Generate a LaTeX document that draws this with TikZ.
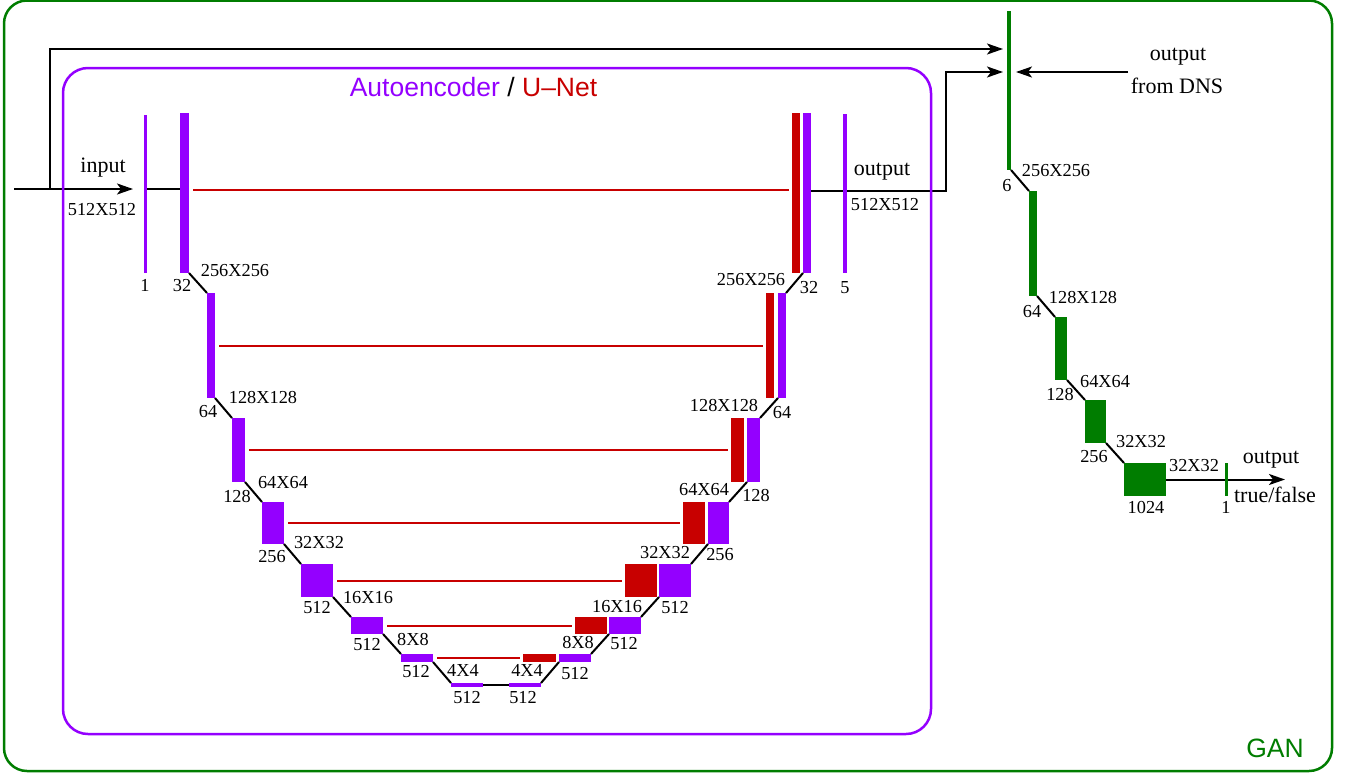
\documentclass[tikz,border=0pt]{standalone}
\usepackage{fontspec}
\setmainfont{Liberation Serif}
\newfontfamily\sansfam{Liberation Sans}
\usetikzlibrary{arrows.meta,calc,backgrounds}
\definecolor{ae}{RGB}{148,0,255}
\definecolor{un}{RGB}{200,0,0}
\definecolor{gn}{RGB}{0,125,0}
\tikzset{
 bar/.style={rectangle, inner sep=0pt, outer sep=0pt, anchor=north west, draw=none},
 pbar/.style={bar, fill=ae},
 rbar/.style={bar, fill=un},
 gbar/.style={bar, fill=gn},
 ln/.style={line width=2pt, black},
 arr/.style={ln, -{Stealth[length=16pt,width=11pt,inset=4pt]}},
 skipln/.style={line width=2pt, un, shorten <=4pt, shorten >=3pt},
 dim/.style={font=\fontsize{18.3}{20}\selectfont, inner sep=0pt, anchor=base},
 word/.style={font=\fontsize{22}{24}\selectfont, inner sep=0pt, anchor=base},
}
\newcommand\mkbar[6]{\node[#2, minimum width={(#5)-(#3)}, minimum height={(#6)-(#4)}] (#1) at (#3,#4) {};}
\begin{document}
\begin{tikzpicture}[x=1pt,y=-1pt]
\useasboundingbox (0,0) rectangle (1351,774);
% ---------- bars
\mkbar{b1}{pbar}{144}{115}{147}{273}
\mkbar{e1}{pbar}{180}{113}{189}{273}
\mkbar{e2}{pbar}{207}{293}{215}{398}
\mkbar{e3}{pbar}{232}{418}{245}{482}
\mkbar{e4}{pbar}{262}{502}{284}{544}
\mkbar{e5}{pbar}{301}{564}{333}{597}
\mkbar{e6}{pbar}{351}{617}{383}{634}
\mkbar{e7}{pbar}{401}{654}{433}{662}
\mkbar{bl}{pbar}{451}{683}{483}{687}
\mkbar{br}{pbar}{509}{683}{541}{687}
\mkbar{d7r}{rbar}{523}{654}{556}{662}
\mkbar{d7p}{pbar}{559}{654}{591}{662}
\mkbar{d6r}{rbar}{575}{617}{607}{634}
\mkbar{d6p}{pbar}{609}{617}{641}{634}
\mkbar{d5r}{rbar}{625}{564}{657}{597}
\mkbar{d5p}{pbar}{659}{564}{691}{597}
\mkbar{d4r}{rbar}{683}{502}{705}{544}
\mkbar{d4p}{pbar}{708}{502}{729}{544}
\mkbar{d3r}{rbar}{731}{418}{744}{482}
\mkbar{d3p}{pbar}{747}{418}{760}{482}
\mkbar{d2r}{rbar}{766}{293}{774}{398}
\mkbar{d2p}{pbar}{778}{293}{786}{398}
\mkbar{d1r}{rbar}{792}{113}{800}{273}
\mkbar{d1p}{pbar}{803}{113}{811}{273}
\mkbar{ob}{pbar}{843}{114}{847}{273}
\mkbar{g0}{gbar}{1007}{11}{1011}{170}
\mkbar{g1}{gbar}{1029}{191}{1037}{296}
\mkbar{g2}{gbar}{1055}{317}{1067}{380}
\mkbar{g3}{gbar}{1085}{400}{1106}{443}
\mkbar{g4}{gbar}{1124}{463}{1166}{496}
\mkbar{gout}{gbar}{1225}{463}{1228}{496}
% ---------- coordinates
\coordinate (in0) at (14,189);
\coordinate (inTip) at (133,189);
\coordinate (br0) at (50,189);
\coordinate (y49) at (0,49);
\coordinate (y72) at (0,72);
\coordinate (y191) at (0,191);
\coordinate (bend) at (946,191);
\coordinate (dns) at (1128,72);
\coordinate (outTip) at (1285,479.5);
% ---------- title and labels
\node[anchor=base, inner sep=0pt, font=\sansfam\fontsize{26.5}{28}\selectfont] (title) at (473.5,96) {\textcolor{ae}{Autoencoder} / \textcolor{un}{U–Net}};
\node[anchor=base, inner sep=0pt, font=\sansfam\fontsize{26.5}{28}\selectfont, text=gn] (gan) at (1275,757) {GAN};
\node[word] (tin) at (103,172) {input};
\node[dim] (tin2) at (102,215) {512X512};
\node[dim] (l1) at (145,291) {1};
\node[dim] (l32) at (182,291) {32};
\node[dim] (s1) at (235,276) {256X256};
\node[dim] (l64) at (208,417) {64};
\node[dim] (s2) at (263,403) {128X128};
\node[dim] (l128) at (237,502) {128};
\node[dim] (s3) at (283,488) {64X64};
\node[dim] (l256) at (272,562) {256};
\node[dim] (s4) at (319,548) {32X32};
\node[dim] (l512a) at (317,613) {512};
\node[dim] (s5) at (368,603) {16X16};
\node[dim] (l512b) at (367,650) {512};
\node[dim] (s6) at (413,645) {8X8};
\node[dim] (l512c) at (416,677) {512};
\node[dim] (s7) at (463,676) {4X4};
\node[dim] (l512d) at (467,703) {512};
\node[dim] (l512e) at (523,703) {512};
\node[dim] (s7r) at (527,676) {4X4};
\node[dim] (s6r) at (578,648) {8X8};
\node[dim] (r512c) at (575,679) {512};
\node[dim] (s5r) at (617,612) {16X16};
\node[dim] (r512b) at (624,649) {512};
\node[dim] (s4r) at (665,558) {32X32};
\node[dim] (r512a) at (675,613) {512};
\node[dim] (s3r) at (704,495) {64X64};
\node[dim] (r256) at (720,560) {256};
\node[dim] (s2r) at (724,411) {128X128};
\node[dim] (r128) at (756,501) {128};
\node[dim] (s1r) at (751,285) {256X256};
\node[dim] (r64) at (782,418) {64};
\node[dim] (r32) at (809,293) {32};
\node[dim] (r5) at (845,293) {5};
\node[word] (tout) at (882,175) {output};
\node[dim] (tout2) at (885,210) {512X512};
\node[word] (tdns1) at (1178,60) {output};
\node[word] (tdns2) at (1177,93) {from DNS};
\node[dim] (g6) at (1007,191) {6};
\node[dim] (gs1) at (1056,176) {256X256};
\node[dim] (g64) at (1032,317) {64};
\node[dim] (gs2) at (1083,303) {128X128};
\node[dim] (g128) at (1060,400) {128};
\node[dim] (gs3) at (1105,387) {64X64};
\node[dim] (g256) at (1094,462) {256};
\node[dim] (gs4) at (1141,447) {32X32};
\node[dim] (g1024) at (1146,513) {1024};
\node[dim] (gs5) at (1194,471) {32X32};
\node[dim] (gone) at (1226,513) {1};
\node[word] (gout1) at (1271,463) {output};
\node[word] (gout2) at (1275,502) {true/false};
% ---------- connectors (behind the bars)
\begin{scope}[on background layer]
\draw[arr] (in0) -- (inTip);
\draw[arr] (br0) |- ([xshift=-4pt]g0.west |- y49);
\draw[ln] (b1.east |- in0) -- (e1.west |- in0);
\draw[ln] (e1.south east) -- (e2.north west);
\draw[ln] (e2.south east) -- (e3.north west);
\draw[ln] (e3.south east) -- (e4.north west);
\draw[ln] (e4.south east) -- (e5.north west);
\draw[ln] (e5.south east) -- (e6.north west);
\draw[ln] (e6.south east) -- (e7.north west);
\draw[ln] (e7.south east) -- (bl.north west);
\draw[ln] (bl.east) -- (br.west);
\draw[ln] (br.north east) -- (d7p.south west);
\draw[ln] (d7p.north east) -- (d6p.south west);
\draw[ln] (d6p.north east) -- (d5p.south west);
\draw[ln] (d5p.north east) -- (d4p.south west);
\draw[ln] (d4p.north east) -- (d3p.south west);
\draw[ln] (d3p.north east) -- (d2p.south west);
\draw[ln] (d2p.north east) -- (d1p.south west);
\draw[skipln] ([yshift=3pt]e1.east) -- ([yshift=3pt]d1r.west);
\draw[skipln] (e2.east) -- (d2r.west);
\draw[skipln] (e3.east) -- (d3r.west);
\draw[skipln] (e4.east) -- (d4r.west);
\draw[skipln] (e5.east) -- (d5r.west);
\draw[skipln] (e6.east) -- (d6r.west);
\draw[skipln] (e7.east) -- (d7r.west);
\draw[arr] (d1p.east |- y191) -- (bend) |- ([xshift=-4pt]g0.west |- y72);
\draw[arr] (dns) -- ([xshift=5pt]g0.east |- y72);
\draw[ln] (g0.south east) -- (g1.north west);
\draw[ln] (g1.south east) -- (g2.north west);
\draw[ln] (g2.south east) -- (g3.north west);
\draw[ln] (g3.south east) -- (g4.north west);
\draw[arr] (g4.east) -- (outTip);
\draw[ae, line width=2.5pt, rounded corners=25pt] (63,68) rectangle (931,734);
\draw[gn, line width=2.5pt, rounded corners=23pt] (4,0.5) rectangle (1332,771);
\end{scope}
\end{tikzpicture}
\end{document}
